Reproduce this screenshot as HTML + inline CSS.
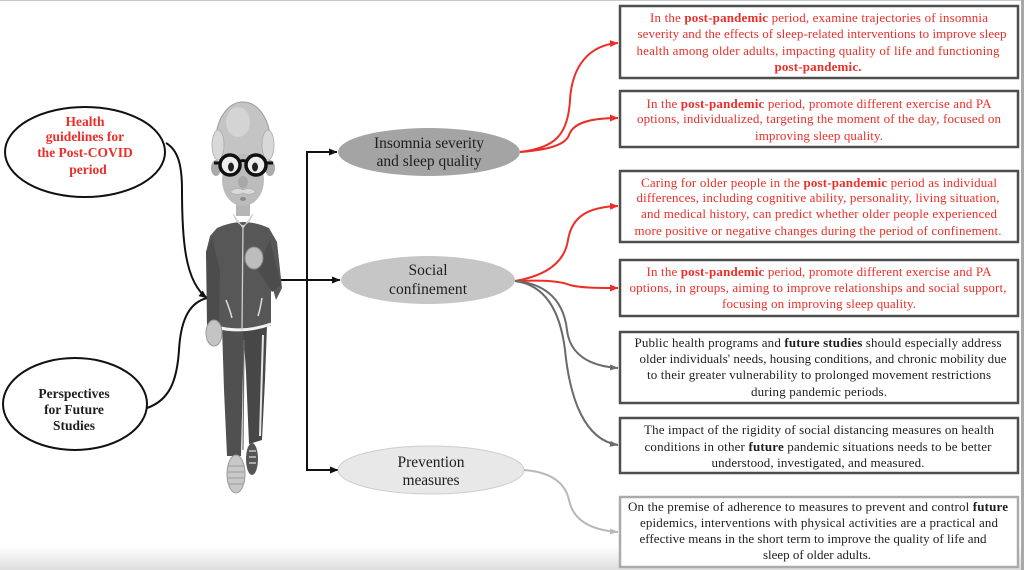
<!DOCTYPE html>
<html>
<head>
<meta charset="utf-8">
<style>
html,body{margin:0;padding:0;background:#fff;}
body{width:1024px;height:570px;overflow:hidden;}
svg{display:block;}
.ser{font-family:"Liberation Serif","Times New Roman",serif;}
.r{fill:#ea2f28;}
.k{fill:#1e1e1e;}
</style>
</head>
<body>
<svg width="1024" height="570" viewBox="0 0 1024 570" xmlns="http://www.w3.org/2000/svg">
<defs>
  <linearGradient id="bot" x1="0" y1="0" x2="0" y2="1">
    <stop offset="0" stop-color="#ffffff"/>
    <stop offset="1" stop-color="#dedede"/>
  </linearGradient>
  <marker id="ak" markerWidth="9" markerHeight="8" refX="8" refY="4" orient="auto" markerUnits="userSpaceOnUse"><path d="M0,0.5 L8.5,4 L0,7.5 z" fill="#111"/></marker>
  <marker id="ar" markerWidth="9" markerHeight="8" refX="8" refY="4" orient="auto" markerUnits="userSpaceOnUse"><path d="M0,0.5 L8.5,4 L0,7.5 z" fill="#ea2f28"/></marker>
  <marker id="ag" markerWidth="9" markerHeight="8" refX="8" refY="4" orient="auto" markerUnits="userSpaceOnUse"><path d="M0,1 L8.5,4 L0,7 z" fill="#6a6a6a"/></marker>
  <marker id="al" markerWidth="9" markerHeight="8" refX="8" refY="4" orient="auto" markerUnits="userSpaceOnUse"><path d="M0,1 L8.5,4 L0,7 z" fill="#b8b8b8"/></marker>
</defs>

<!-- background bits -->
<rect x="0" y="0" width="1024" height="570" fill="#fff"/>
<rect x="0" y="546" width="1024" height="24" fill="url(#bot)"/>
<rect x="0" y="0" width="1024" height="1" fill="#c4c8d0"/>
<rect x="1021" y="0" width="3" height="570" fill="#a8a8a8"/>

<!-- Left ellipses -->
<ellipse cx="85" cy="152" rx="80" ry="45" fill="#fff" stroke="#111" stroke-width="2"/>
<g class="ser r" font-weight="bold" font-size="13.5" text-anchor="middle">
  <text x="85" y="126">Health</text>
  <text x="85" y="141">guidelines for</text>
  <text x="85" y="157">the Post-COVID</text>
  <text x="88" y="174">period</text>
</g>
<ellipse cx="75" cy="404" rx="72" ry="46" fill="#fff" stroke="#111" stroke-width="2"/>
<g class="ser k" font-weight="bold" font-size="13.5" text-anchor="middle">
  <text x="74" y="398">Perspectives</text>
  <text x="74" y="414">for Future</text>
  <text x="74" y="430">Studies</text>
</g>

<!-- Left curves to figure -->
<path d="M166,143 C178,150 182,165 182,190 C182,240 185,282 207,298" fill="none" stroke="#111" stroke-width="2" marker-end="url(#ak)"/>
<path d="M147,408 C170,400 177,380 179,350 C181,315 192,302 207,298" fill="none" stroke="#111" stroke-width="2"/>

<!-- Figure -->
<g>
  <!-- legs -->
  <path d="M222,326 L245,326 L243,372 L241,456 L227,456 L224,390 Z" fill="#505050"/>
  <path d="M243,326 L267,326 L265,380 L262,440 L249,444 L246,372 Z" fill="#474747"/>
  <path d="M244,340 L243,450" stroke="#6e6e6e" stroke-width="1.2"/>
  <path d="M263,335 L260,436" stroke="#e6e6e6" stroke-width="2"/>
  <!-- shoes -->
  <ellipse cx="252" cy="459" rx="6" ry="16" fill="#555"/>
  <path d="M249,451 L256,451 M249,457 L256,457 M249,463 L256,463" stroke="#ddd" stroke-width="1.2"/>
  <ellipse cx="236" cy="474" rx="9" ry="19" fill="#c8c8c8" stroke="#999" stroke-width="1"/>
  <path d="M228,466 L244,466 M228,472 L244,472 M228,478 L244,478 M229,484 L243,484" stroke="#9a9a9a" stroke-width="1"/>
  <!-- jacket -->
  <path d="M217,228 Q243,216 269,228 L277,242 L282,288 L276,300 L271,282 L271,326 L216,330 L214,300 L210,330 L206,252 L210,236 Z" fill="#575757"/>
  <!-- right arm (viewer) -->
  <path d="M270,240 L281,285 L272,292 L258,270 L262,258 Z" fill="#4c4c4c"/>
  <!-- left arm (viewer) -->
  <path d="M212,238 L206,252 L207,325 L219,325 L220,270 Z" fill="#4c4c4c"/>
  <!-- waistband -->
  <path d="M216,327 Q243,334 271,324" fill="none" stroke="#f2f2f2" stroke-width="3"/>
  <!-- zipper -->
  <path d="M243,225 L242,330" stroke="#cfcfcf" stroke-width="1.3"/>
  <!-- pockets -->
  <path d="M226,300 Q230,310 232,318" fill="none" stroke="#ddd" stroke-width="1.5"/>
  <path d="M262,298 Q260,310 258,316" fill="none" stroke="#ddd" stroke-width="1.5"/>
  <!-- collar -->
  <path d="M233,214 L243,228 L253,214 L249,222 L243,226 L237,222 Z" fill="#f0f0f0" stroke="#ccc" stroke-width="0.8"/>
  <!-- fist -->
  <ellipse cx="254" cy="258" rx="9" ry="11" fill="#bdbdbd" stroke="#8a8a8a" stroke-width="1"/>
  <!-- left hand -->
  <ellipse cx="214" cy="333" rx="8" ry="13" fill="#c4c4c4" stroke="#999" stroke-width="1"/>
  <!-- neck -->
  <rect x="236" y="200" width="14" height="16" fill="#b5b5b5"/>
  <!-- head -->
  <ellipse cx="243" cy="140" rx="27" ry="38" fill="#c4c4c4" stroke="#9c9c9c" stroke-width="1"/>
  <ellipse cx="243" cy="180" rx="21" ry="26" fill="#bcbcbc"/>
  <ellipse cx="238" cy="122" rx="12" ry="15" fill="#d4d4d4"/>
  <!-- side hair -->
  <ellipse cx="218" cy="145" rx="6" ry="15" fill="#d8d8d8" stroke="#aaa" stroke-width="0.8"/>
  <ellipse cx="268" cy="145" rx="6" ry="15" fill="#d8d8d8" stroke="#aaa" stroke-width="0.8"/>
  <!-- ears -->
  <ellipse cx="216" cy="168" rx="5" ry="8" fill="#aaa"/>
  <ellipse cx="270" cy="168" rx="5" ry="8" fill="#aaa"/>
  <!-- glasses -->
  <path d="M214,163 L221,163 M265,163 L273,163 M239,162 Q243,159 247,162" stroke="#111" stroke-width="3" fill="none"/>
  <circle cx="230" cy="165" r="10" fill="#eee" stroke="#111" stroke-width="3.5"/>
  <circle cx="256" cy="165" r="10" fill="#eee" stroke="#111" stroke-width="3.5"/>
  <ellipse cx="231" cy="167" rx="3" ry="4.5" fill="#222"/>
  <ellipse cx="255" cy="167" rx="3" ry="4.5" fill="#222"/>
  <!-- nose -->
  <ellipse cx="243" cy="182" rx="5" ry="6" fill="#a8a8a8"/>
  <!-- mustache -->
  <path d="M230,192 Q236,186 243,190 Q250,186 256,192 Q250,196 243,193 Q236,196 230,192 Z" fill="#dadada" stroke="#aaa" stroke-width="0.6"/>
  <ellipse cx="243" cy="199" rx="3" ry="2" fill="#888"/>
</g>

<!-- Black connectors -->
<path d="M281,280 H307" stroke="#111" stroke-width="2" fill="none"/>
<path d="M307,151 V471" stroke="#111" stroke-width="2" fill="none"/>
<path d="M306,152 H337" stroke="#111" stroke-width="2" fill="none" marker-end="url(#ak)"/>
<path d="M307,280 H340" stroke="#111" stroke-width="2" fill="none" marker-end="url(#ak)"/>
<path d="M306,470 H338" stroke="#111" stroke-width="2" fill="none" marker-end="url(#ak)"/>

<!-- Middle ellipses -->
<ellipse cx="429" cy="152" rx="91" ry="24" fill="#a4a4a4"/>
<g class="ser k" font-size="15.5" text-anchor="middle">
  <text x="429" y="148" textLength="110">Insomnia severity</text>
  <text x="429" y="166" textLength="105">and sleep quality</text>
</g>
<ellipse cx="428" cy="280" rx="87" ry="24" fill="#c6c6c6"/>
<g class="ser k" font-size="15.5" text-anchor="middle">
  <text x="428" y="275" textLength="39">Social</text>
  <text x="428" y="294" textLength="78">confinement</text>
</g>
<ellipse cx="431" cy="470" rx="93" ry="24" fill="#e8e8e8" stroke="#cdcdcd" stroke-width="1"/>
<g class="ser k" font-size="15.5" text-anchor="middle">
  <text x="431" y="467" textLength="67">Prevention</text>
  <text x="431" y="485" textLength="57">measures</text>
</g>

<!-- Right connectors -->
<path d="M520,152 C555,148 568,135 570,100 C572,65 590,45 618,43" fill="none" stroke="#ea2f28" stroke-width="2" marker-end="url(#ar)"/>
<path d="M520,152 C545,150 565,146 569,135 C573,123 590,118 618,118" fill="none" stroke="#ea2f28" stroke-width="2" marker-end="url(#ar)"/>
<path d="M515,281 C550,275 565,260 568,240 C572,215 590,207 618,206" fill="none" stroke="#ea2f28" stroke-width="2" marker-end="url(#ar)"/>
<path d="M515,281 C545,280 560,281 570,285 C580,288 600,288 618,288" fill="none" stroke="#ea2f28" stroke-width="2" marker-end="url(#ar)"/>
<path d="M515,281 C540,283 563,295 567,330 C570,355 590,366 618,368" fill="none" stroke="#6a6a6a" stroke-width="2" marker-end="url(#ag)"/>
<path d="M515,281 C545,285 560,310 565,350 C570,400 585,440 618,445" fill="none" stroke="#6a6a6a" stroke-width="2" marker-end="url(#ag)"/>
<path d="M524,470 C550,472 565,482 569,500 C573,520 590,530 618,532" fill="none" stroke="#b8b8b8" stroke-width="2" marker-end="url(#al)"/>

<!-- Right boxes -->
<g fill="#fff" stroke="#4e4e4e" stroke-width="2.5">
  <rect x="620" y="6" width="398" height="72"/>
  <rect x="620" y="91" width="398" height="56"/>
  <rect x="620" y="171" width="398" height="71"/>
  <rect x="620" y="260" width="398" height="56"/>
  <rect x="620" y="332" width="398" height="71"/>
  <rect x="620" y="418" width="398" height="55"/>
</g>
<rect x="620" y="497" width="398" height="70" fill="#fff" stroke="#ababab" stroke-width="2.5"/>

<g class="ser" font-size="13" text-anchor="middle">
  <!-- box 1 -->
  <g class="r">
    <text x="819" y="22" textLength="338">In the <tspan font-weight="bold">post-pandemic</tspan> period, examine trajectories of insomnia</text>
    <text x="822" y="38" textLength="369">severity and the effects of sleep-related interventions to improve sleep</text>
    <text x="818" y="55" textLength="363">health among older adults, impacting quality of life and functioning</text>
    <text x="818" y="71" textLength="87" font-weight="bold">post-pandemic.</text>
  </g>
  <!-- box 2 -->
  <g class="r">
    <text x="819" y="108" textLength="345">In the <tspan font-weight="bold">post-pandemic</tspan> period, promote different exercise and PA</text>
    <text x="819" y="123" textLength="364">options, individualized, targeting the moment of the day, focused on</text>
    <text x="819" y="140" textLength="128">improving sleep quality.</text>
  </g>
  <!-- box 3 -->
  <g class="r">
    <text x="819" y="187" textLength="356">Caring for older people in the <tspan font-weight="bold">post-pandemic</tspan> period as individual</text>
    <text x="818" y="202" textLength="363">differences, including cognitive ability, personality, living situation,</text>
    <text x="819" y="218" textLength="356">and medical history, can predict whether older people experienced</text>
    <text x="818" y="235" textLength="367">more positive or negative changes during the period of confinement.</text>
  </g>
  <!-- box 4 -->
  <g class="r">
    <text x="819" y="276" textLength="345">In the <tspan font-weight="bold">post-pandemic</tspan> period, promote different exercise and PA</text>
    <text x="818" y="292" textLength="377">options, in groups, aiming to improve relationships and social support,</text>
    <text x="819" y="308" textLength="194">focusing on improving sleep quality.</text>
  </g>
  <!-- box 5 -->
  <g class="k">
    <text x="818" y="347" textLength="367">Public health programs and <tspan font-weight="bold">future studies</tspan> should especially address</text>
    <text x="823" y="363" textLength="367">older individuals' needs, housing conditions, and chronic mobility due</text>
    <text x="819" y="379" textLength="344">to their greater vulnerability to prolonged movement restrictions</text>
    <text x="819" y="396" textLength="136">during pandemic periods.</text>
  </g>
  <!-- box 6 -->
  <g class="k">
    <text x="819" y="434" textLength="350">The impact of the rigidity of social distancing measures on health</text>
    <text x="818" y="451" textLength="347">conditions in other <tspan font-weight="bold">future</tspan> pandemic situations needs to be better</text>
    <text x="818" y="467" textLength="213">understood, investigated, and measured.</text>
  </g>
  <!-- box 7 -->
  <g class="k">
    <text x="818" y="511" textLength="380">On the premise of adherence to measures to prevent and control <tspan font-weight="bold">future</tspan></text>
    <text x="819" y="527" textLength="358">epidemics, interventions with physical activities are a practical and</text>
    <text x="813" y="543" textLength="347">effective means in the short term to improve the quality of life and</text>
    <text x="817" y="559" textLength="108">sleep of older adults.</text>
  </g>
</g>
</svg>
</body>
</html>
